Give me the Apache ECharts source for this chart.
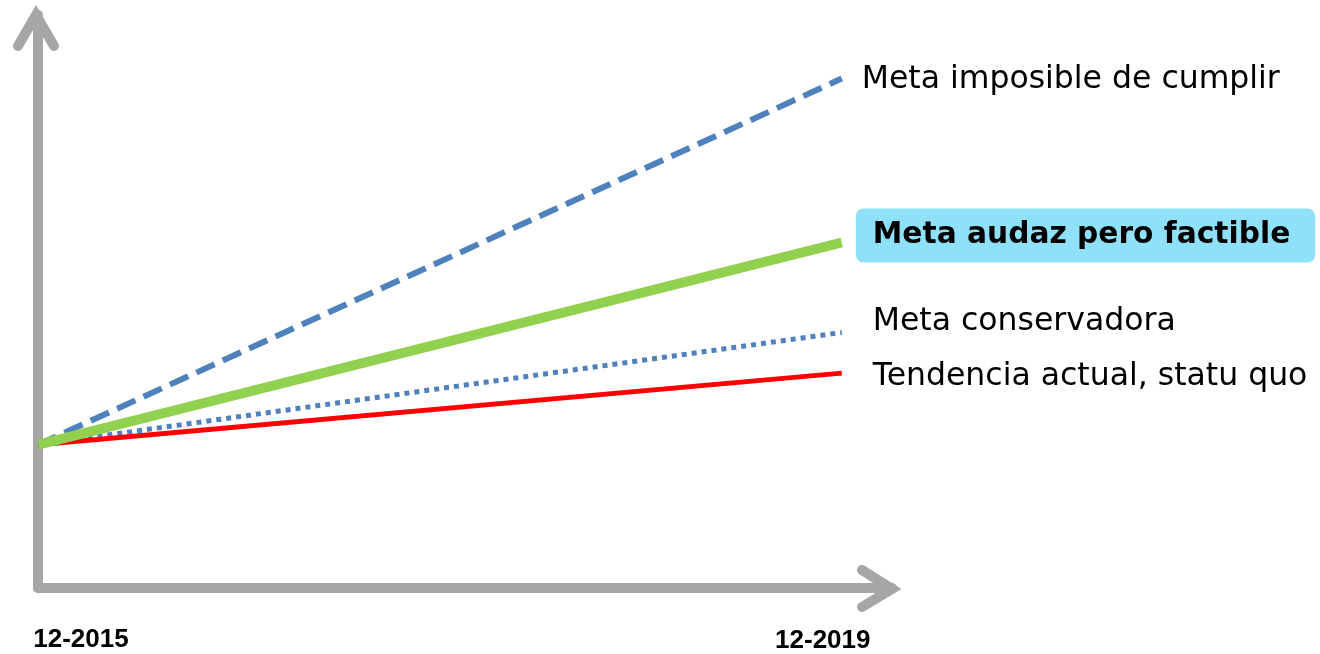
<!DOCTYPE html>
<html>
<head>
<meta charset="utf-8">
<script src="https://cdn.jsdelivr.net/npm/echarts@6/dist/echarts.min.js"></script>
<style>
  html, body { margin: 0; padding: 0; background: #fff; }
  #chart { width: 1320px; height: 654px; }
</style>
</head>
<body>
<div id="chart"></div>
<script>
// meses desde 12-2015
var months = [0, 48];
var dateLabels = ['12-2015', '12-2019'];
var names = ['Meta imposible de cumplir', 'Meta audaz pero factible', 'Meta conservadora', 'Tendencia actual, statu quo'];
var imposible = [25, 88.9];
var audaz = [25, 60.3];
var conservadora = [25, 44.6];
var tendencia = [25, 37.5];

var gray = '#A6A6A6';
var labelFont = '"DejaVu Sans", sans-serif';

var myChart = echarts.init(document.getElementById('chart'), null, { renderer: 'canvas' });

function pts(vals) {
    var out = [];
    for (var i = 0; i < months.length; i++) {
        out.push([months[i], vals[i]]);
    }
    return out;
}

function plainLabel(dx, dy) {
    return {
        show: true,
        formatter: '{a}',
        distance: 0,
        offset: [dx, dy],
        color: '#000',
        fontFamily: labelFont,
        fontSize: 31.5
    };
}

var option = {
    animation: false,
    backgroundColor: '#fff',
    grid: { left: 38, right: 428, top: 15, bottom: 66 },
    xAxis: {
        type: 'value',
        min: 0,
        max: 51,
        axisLine: { show: true, lineStyle: { color: gray, width: 10 } },
        axisTick: { show: false },
        axisLabel: { show: false },
        splitLine: { show: false }
    },
    yAxis: {
        type: 'value',
        min: 0,
        max: 100,
        axisLine: { show: true, lineStyle: { color: gray, width: 10 } },
        axisTick: { show: false },
        axisLabel: { show: false },
        splitLine: { show: false }
    },
    series: [
        {
            name: names[0],
            type: 'line',
            data: pts(imposible),
            symbol: 'none',
            lineStyle: { color: '#4F81BD', width: 6, type: [20, 9] },
            endLabel: plainLabel(20, 1)
        },
        {
            name: names[2],
            type: 'line',
            data: pts(conservadora),
            symbol: 'none',
            lineStyle: { color: '#4F81BD', width: 5, type: [5, 5] },
            endLabel: plainLabel(31, -11)
        },
        {
            name: names[3],
            type: 'line',
            data: pts(tendencia),
            symbol: 'none',
            lineStyle: { color: '#FF0000', width: 5 },
            endLabel: plainLabel(31, 4)
        },
        {
            name: names[1],
            type: 'line',
            data: pts(audaz),
            symbol: 'none',
            lineStyle: { color: '#92D050', width: 10 },
            endLabel: {
                show: true,
                formatter: '{a}',
                distance: 0,
                offset: [14, -7],
                color: '#000',
                fontFamily: labelFont,
                fontWeight: 'bold',
                fontSize: 29.7,
                backgroundColor: '#8EE1F8',
                borderRadius: 8,
                padding: [12, 25, 12, 17]
            }
        }
    ]
};

myChart.setOption(option);

// flechas de los ejes y fechas
var yTop = myChart.convertToPixel({ yAxisIndex: 0 }, 100);
var xRight = myChart.convertToPixel({ xAxisIndex: 0 }, 51);
var origin = myChart.convertToPixel({ gridIndex: 0 }, [0, 0]);
var p0 = myChart.convertToPixel({ xAxisIndex: 0 }, months[0]);
var p1 = myChart.convertToPixel({ xAxisIndex: 0 }, months[1]);

myChart.setOption({
    graphic: [
        {
            type: 'polyline',
            shape: { points: [[origin[0] - 20, yTop + 31], [origin[0] - 2, yTop], [origin[0] + 16, yTop + 31]] },
            style: { stroke: gray, lineWidth: 10, lineCap: 'round', lineJoin: 'miter', fill: null }
        },
        {
            type: 'polyline',
            shape: { points: [[xRight - 30, origin[1] - 18], [xRight, origin[1] + 1], [xRight - 30, origin[1] + 19]] },
            style: { stroke: gray, lineWidth: 10, lineCap: 'round', lineJoin: 'miter', fill: null }
        },
        {
            type: 'text',
            x: p0 + 43,
            y: 640,
            style: {
                text: dateLabels[0], fill: '#000', align: 'center', verticalAlign: 'middle',
                font: 'bold 26px "Liberation Sans", sans-serif'
            }
        },
        {
            type: 'text',
            x: p1 - 19,
            y: 641,
            style: {
                text: dateLabels[1], fill: '#000', align: 'center', verticalAlign: 'middle',
                font: 'bold 26px "Liberation Sans", sans-serif'
            }
        }
    ]
});
</script>
</body>
</html>
